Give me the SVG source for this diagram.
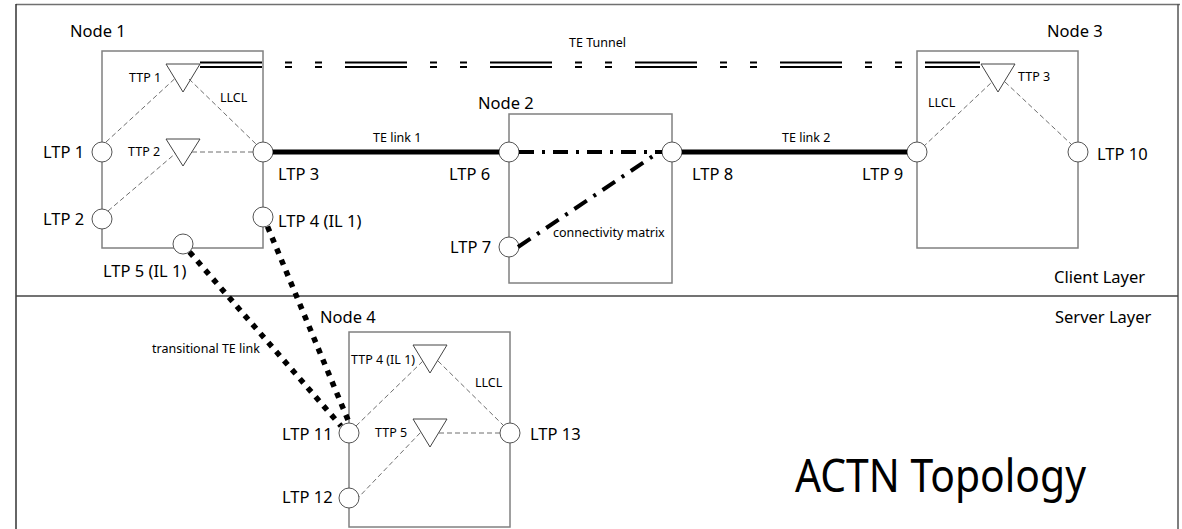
<svg xmlns="http://www.w3.org/2000/svg" width="1182" height="529" viewBox="0 0 1182 529">
<style>
  text { font-family: "Noto Sans", "Open Sans", "DejaVu Sans", sans-serif; fill: #000; }
  .lbl { font-size: 16.5px; }
  .sm { font-size: 12.5px; }
  .box { fill: none; stroke: #808080; stroke-width: 1.5; }
  .ltp { fill: #fff; stroke: #555; stroke-width: 1; }
  .ttp { fill: #fff; stroke: #444; stroke-width: 1; }
  .llcl { stroke: #6e6e6e; stroke-width: 1; stroke-dasharray: 5 3; fill: none; }
  .telink { stroke: #000; stroke-width: 5; fill: none; }
  .matrix { stroke: #000; stroke-width: 4; stroke-dasharray: 15 8 3 8; fill: none; }
  .trans { stroke: #000; stroke-width: 5.5; stroke-dasharray: 5.5 6.5; fill: none; }
  .tunnel { stroke: #000; stroke-width: 2; stroke-dasharray: 62 23 7 23 7 23; fill: none; }
</style>
<rect width="1182" height="529" fill="#fff"/>
<g id="frame">
  <line x1="16" y1="4.5" x2="1180" y2="4.5" stroke="#707070" stroke-width="1.5"/>
  <line x1="16" y1="4" x2="16" y2="529" stroke="#333" stroke-width="1.5"/>
  <line x1="1178" y1="4" x2="1178" y2="529" stroke="#555" stroke-width="1.5"/>
  <line x1="16" y1="296" x2="1178" y2="296" stroke="#444" stroke-width="1.5"/>
  <text class="lbl" x="1054" y="283">Client Layer</text>
  <text class="lbl" x="1055" y="323">Server Layer</text>
  <text x="795" y="492" font-size="46" textLength="291" lengthAdjust="spacingAndGlyphs">ACTN Topology</text>
</g>
<g id="node1">
  <rect class="box" x="102" y="51" width="161" height="197"/>
  <text class="lbl" x="70" y="37">Node 1</text>
  <polygon class="ttp" points="166,64 200,64 183,92"/>
  <polygon class="ttp" points="166,139 200,139 183,166"/>
  <text class="sm" x="129" y="81.5">TTP 1</text>
  <text class="sm" x="128" y="155.5">TTP 2</text>
  <text class="sm" x="220" y="101.5">LLCL</text>
  <line class="llcl" x1="106" y1="142" x2="175" y2="78.5"/>
  <line class="llcl" x1="189" y1="79" x2="257" y2="145"/>
  <line class="llcl" x1="192" y1="152" x2="253" y2="152"/>
  <line class="llcl" x1="108" y1="211" x2="176" y2="153"/>
  <circle class="ltp" cx="102" cy="152" r="10"/>
  <circle class="ltp" cx="102" cy="219" r="10"/>
  <circle class="ltp" cx="263" cy="152" r="10"/>
  <circle class="ltp" cx="263" cy="217" r="10"/>
  <circle class="ltp" cx="183" cy="244" r="10"/>
  <text class="lbl" x="43" y="158">LTP 1</text>
  <text class="lbl" x="43" y="225">LTP 2</text>
  <text class="lbl" x="278" y="180">LTP 3</text>
  <text class="lbl" x="278" y="226.5">LTP 4 (IL 1)</text>
  <text class="lbl" x="103" y="276.5">LTP 5 (IL 1)</text>
</g>
<g id="node2">
  <rect class="box" x="509" y="114" width="163" height="169"/>
  <text class="lbl" x="478" y="108.5">Node 2</text>
  <circle class="ltp" cx="509" cy="152" r="10"/>
  <circle class="ltp" cx="672" cy="152" r="10"/>
  <circle class="ltp" cx="509" cy="247" r="10"/>
  <text class="lbl" x="449" y="179.5">LTP 6</text>
  <text class="lbl" x="692" y="179.5">LTP 8</text>
  <text class="lbl" x="450" y="253">LTP 7</text>
  <text class="sm" x="553" y="237">connectivity matrix</text>
</g>
<g id="node3">
  <rect class="box" x="917" y="51" width="161" height="197"/>
  <text class="lbl" x="1047" y="37">Node 3</text>
  <polygon class="ttp" points="981,64 1015,64 998,92"/>
  <text class="sm" x="1018" y="81">TTP 3</text>
  <text class="sm" x="928" y="107">LLCL</text>
  <line class="llcl" x1="923" y1="147" x2="992" y2="82"/>
  <line class="llcl" x1="1005" y1="82" x2="1071" y2="144"/>
  <circle class="ltp" cx="917" cy="152" r="10"/>
  <circle class="ltp" cx="1078" cy="152" r="10"/>
  <text class="lbl" x="862" y="179.5">LTP 9</text>
  <text class="lbl" x="1097" y="160">LTP 10</text>
</g>
<g id="node4">
  <rect class="box" x="349" y="332" width="161" height="195"/>
  <text class="lbl" x="320" y="323">Node 4</text>
  <polygon class="ttp" points="413,345 447,345 430,373"/>
  <polygon class="ttp" points="413,419 447,419 430,447"/>
  <text class="sm" x="351" y="364">TTP 4 (IL 1)</text>
  <text class="sm" x="375" y="437">TTP 5</text>
  <text class="sm" x="475" y="386.5">LLCL</text>
  <line class="llcl" x1="356" y1="426" x2="423" y2="361"/>
  <line class="llcl" x1="438" y1="361" x2="503" y2="425"/>
  <line class="llcl" x1="439" y1="433" x2="500" y2="433"/>
  <line class="llcl" x1="356" y1="500" x2="421" y2="432"/>
  <circle class="ltp" cx="349" cy="433" r="10"/>
  <circle class="ltp" cx="349" cy="498" r="10"/>
  <circle class="ltp" cx="510" cy="433" r="10"/>
  <text class="lbl" x="282" y="440">LTP 11</text>
  <text class="lbl" x="282" y="503">LTP 12</text>
  <text class="lbl" x="530" y="440">LTP 13</text>
</g>
<g id="connectors">
  <line class="tunnel" x1="200" y1="62.5" x2="980" y2="62.5"/>
  <line class="tunnel" x1="200" y1="67" x2="980" y2="67"/>
  <text class="sm" x="569" y="47">TE Tunnel</text>
  <line class="telink" x1="273" y1="152" x2="499" y2="152"/>
  <text class="sm" x="373" y="141.5">TE link 1</text>
  <line class="telink" x1="682" y1="152" x2="907" y2="152"/>
  <text class="sm" x="782" y="141.5">TE link 2</text>
  <line class="matrix" x1="519" y1="152" x2="662" y2="152"/>
  <line class="matrix" x1="518" y1="247" x2="659" y2="152"/>
  <line class="trans" x1="189.5" y1="252" x2="341" y2="426"/>
  <line class="trans" x1="267.5" y1="226.5" x2="348" y2="420"/>
  <text class="sm" x="152" y="353">transitional TE link</text>
</g>
</svg>
